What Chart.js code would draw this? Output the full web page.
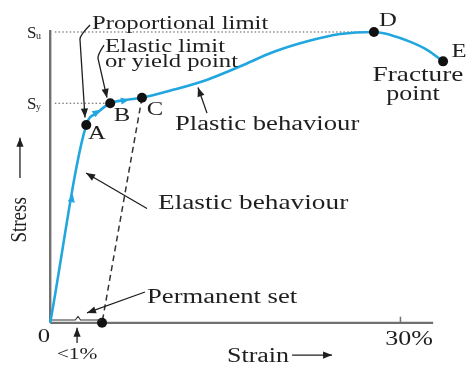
<!DOCTYPE html>
<html>
<head>
<meta charset="utf-8">
<script src="https://cdn.jsdelivr.net/npm/chart.js@4/dist/chart.umd.min.js"></script>
<style>
  html, body { margin: 0; padding: 0; background: #ffffff; }
  #wrap { width: 467px; height: 365px; position: relative; }
</style>
</head>
<body>
<div id="wrap"><canvas id="c" width="467" height="365"></canvas></div>
<script>
// ---- Data (strain in %, stress normalised so that S_u = 100) ----
const curveStrain = [0, 3.09, 4.03, 5.14, 6.43, 7.86, 10.54, 13.46, 16.29, 19.11, 22.03, 24.86, 27.73, 29.14, 30.86, 32.31, 33.65];
const curveStress = [0, 68.0, 72.2, 75.5, 76.6, 77.4, 80.1, 83.6, 88.2, 93.1, 96.8, 99.3, 100, 99.0, 96.6, 93.8, 89.9];

const pointLabels = ['A', 'B', 'C', 'D', 'E'];
const pointStrain = [3.09, 5.14, 7.86, 27.73, 33.65];
const pointStress = [68.0, 75.5, 77.4, 100, 89.9];

const permanentSetStrain = 4.44;   // unloading line ends here (stress 0)
const ultimateStress = 100;        // S_u
const yieldStress = 75.5;          // S_y
const xTickValues = [0, 30];
const xTickLabels = ['0', '30%'];
const yTickLabels = ['S', 'S'];
const yTickSubs = ['u', 'y'];
const axisMaxStrain = 32.8;
const axisMaxStress = 100.7;

const BLUE = '#21a6df';
const INK = '#1f1f1f';
const AXIS = '#707070';

const xy = (xs, ys) => xs.map((x, i) => ({ x: x, y: ys[i] }));

const datasets = [
  { // key points (drawn on top)
    data: xy(pointStrain.concat([permanentSetStrain]), pointStress.concat([0])),
    showLine: false, pointRadius: 5, pointBackgroundColor: '#111', pointBorderColor: '#111', pointBorderWidth: 0
  },
  { // stress-strain curve
    data: xy(curveStrain, curveStress),
    showLine: true, borderColor: BLUE, borderWidth: 2.6, pointRadius: 0,
    cubicInterpolationMode: 'monotone', fill: false
  },
  { // unloading (dashed)
    data: [{ x: pointStrain[2], y: pointStress[2] }, { x: permanentSetStrain, y: 0 }],
    showLine: true, borderColor: '#333', borderWidth: 1.5, borderDash: [6, 4], pointRadius: 0
  },
  { // S_u dotted reference
    data: [{ x: 0.4, y: ultimateStress }, { x: pointStrain[3], y: ultimateStress }],
    showLine: true, borderColor: '#555', borderWidth: 1, borderDash: [1.5, 2.2], pointRadius: 0
  },
  { // S_y dotted reference
    data: [{ x: 0.4, y: yieldStress }, { x: pointStrain[1], y: yieldStress }],
    showLine: true, borderColor: '#555', borderWidth: 1, borderDash: [1.5, 2.2], pointRadius: 0
  },
  { // y axis
    data: [{ x: 0, y: 0 }, { x: 0, y: axisMaxStress }],
    showLine: true, borderColor: AXIS, borderWidth: 2.4, pointRadius: 0
  },
  { // x axis
    data: [{ x: 0, y: 0 }, { x: axisMaxStrain, y: 0 }],
    showLine: true, borderColor: AXIS, borderWidth: 2.4, pointRadius: 0
  },
  { // 30% tick
    data: [{ x: xTickValues[1], y: 0 }, { x: xTickValues[1], y: 2.1 }],
    showLine: true, borderColor: AXIS, borderWidth: 1.5, pointRadius: 0
  }
];

// ---- Annotation layout (data units) ----
const texts = [
  { t: 'Proportional limit', x: 3.58, y: 101.0, size: 19, align: 'left', base: 'alphabetic' },
  { t: 'Elastic limit', x: 4.69, y: 93.1, size: 19, align: 'left', base: 'alphabetic' },
  { t: 'or yield point', x: 4.69, y: 87.9, size: 19, align: 'left', base: 'alphabetic' },
  { t: 'Plastic behaviour', x: 10.69, y: 66.3, size: 20.5, align: 'left', base: 'alphabetic' },
  { t: 'Elastic behaviour', x: 9.23, y: 39.1, size: 21, align: 'left', base: 'alphabetic' },
  { t: 'Permanent set', x: 8.29, y: 6.8, size: 20.5, align: 'left', base: 'alphabetic' },
  { t: 'Fracture', x: 31.50, y: 85.2, size: 21, align: 'center', base: 'middle' },
  { t: 'point', x: 31.07, y: 78.3, size: 20, align: 'center', base: 'middle' },
  { t: 'Strain', x: 15.14, y: -13.5, size: 20, align: 'left', base: 'alphabetic' },
  { t: xTickLabels[0], x: -0.53, y: -4.9, size: 19, align: 'center', base: 'middle' },
  { t: xTickLabels[1], x: 30.73, y: -5.9, size: 20, align: 'center', base: 'middle' },
  { t: '<1%', x: 2.30, y: -11.0, size: 16.5, align: 'center', base: 'middle' }
];
const letterOffsets = [[0.92, -3.1], [1.01, -4.4], [1.12, -4.2], [1.2, 3.8], [1.36, 3.2]];

const arrows = [
  { pts: [[3.41, 102.4], [2.55, 98.9], [2.98, 70.6]] },
  { pts: [[4.61, 95.5], [4.09, 92.4], [4.86, 77.4]] },
  { pts: [[13.43, 72.1], [12.66, 80.9]] },
  { pts: [[8.29, 39.3], [3.07, 51.5]] },
  { pts: [[8.12, 10.6], [3.15, 3.4]] },
  { pts: [[2.30, -6.9], [2.30, -1.7]] },
  { pts: [[20.72, -11.1], [24.14, -11.1]] },
  { pts: [[-2.59, 49.8], [-2.59, 63.6]] }
];
const curveArrows = [
  { at: [1.87, 42.9], toward: [3.09, 68.0] },
  { at: [4.01, 72.5], toward: [5.14, 75.5] },
  { at: [6.41, 76.5], toward: [7.86, 77.4] }
];
const brace = [[0.15, 0.96], [2.15, 0.96], [2.38, 2.2], [2.6, 0.96], [4.35, 0.96]];

const STRETCH = 1.3;
const FONT = '"Liberation Serif", "Times New Roman", serif';

const annot = {
  id: 'annot',
  afterDatasetsDraw(chart) {
    const ctx = chart.ctx;
    const xs = chart.scales.x, ys = chart.scales.y;
    const P = (x, y) => [xs.getPixelForValue(x), ys.getPixelForValue(y)];

    function text(t, x, y, size, align, base, stretch) {
      const p = P(x, y);
      ctx.save();
      ctx.translate(p[0], p[1]);
      ctx.scale(stretch, 1);
      ctx.font = size + 'px ' + FONT;
      ctx.fillStyle = INK;
      ctx.textAlign = align;
      ctx.textBaseline = base;
      ctx.fillText(t, 0, 0);
      ctx.restore();
    }
    function head(from, to, len, half, color) {
      const dx = to[0] - from[0], dy = to[1] - from[1];
      const L = Math.hypot(dx, dy) || 1;
      const ux = dx / L, uy = dy / L;
      ctx.beginPath();
      ctx.moveTo(to[0], to[1]);
      ctx.lineTo(to[0] - ux * len - uy * half, to[1] - uy * len + ux * half);
      ctx.lineTo(to[0] - ux * len + uy * half, to[1] - uy * len - ux * half);
      ctx.closePath();
      ctx.fillStyle = color;
      ctx.fill();
    }

    ctx.save();
    texts.forEach(o => text(o.t, o.x, o.y, o.size, o.align, o.base, STRETCH));
    pointLabels.forEach((l, i) => text(l, pointStrain[i] + letterOffsets[i][0], pointStress[i] + letterOffsets[i][1], 19, 'center', 'middle', STRETCH));
    [ultimateStress, yieldStress].forEach((v, i) => {
      text(yTickLabels[i], -1.99, v - 2.1, 17, 'left', 'alphabetic', 1);
      text(yTickSubs[i], -1.22, v - 2.3, 10, 'left', 'alphabetic', 1);
    });
    const sp = P(-2.59, 35.4);
    ctx.save();
    ctx.translate(sp[0], sp[1]);
    ctx.rotate(-Math.PI / 2);
    ctx.scale(1, 1.25);
    ctx.font = '19px ' + FONT;
    ctx.fillStyle = INK;
    ctx.textAlign = 'center';
    ctx.textBaseline = 'middle';
    ctx.fillText('Stress', 0, 0);
    ctx.restore();

    ctx.strokeStyle = INK;
    ctx.lineWidth = 1.3;
    arrows.forEach(a => {
      const pts = a.pts.map(p => P(p[0], p[1]));
      ctx.beginPath();
      ctx.moveTo(pts[0][0], pts[0][1]);
      if (pts.length === 3) {
        ctx.quadraticCurveTo(pts[1][0], pts[1][1], pts[1][0], pts[1][1] + 4);
        ctx.lineTo(pts[2][0], pts[2][1]);
      } else {
        ctx.lineTo(pts[1][0], pts[1][1]);
      }
      ctx.stroke();
      const n = pts.length;
      head(pts[n - 2], pts[n - 1], 9, 3.6, INK);
    });
    curveArrows.forEach(c => {
      const a = P(c.at[0], c.at[1]), b = P(c.toward[0], c.toward[1]);
      const dx = b[0] - a[0], dy = b[1] - a[1], L = Math.hypot(dx, dy);
      const tip = [a[0] + dx / L * 4, a[1] + dy / L * 4];
      head(a, tip, 8, 3.6, BLUE);
    });
    const bp = brace.map(p => P(p[0], p[1]));
    ctx.beginPath();
    ctx.moveTo(bp[0][0], bp[0][1]);
    for (let i = 1; i < bp.length; i++) ctx.lineTo(bp[i][0], bp[i][1]);
    ctx.lineWidth = 1.1;
    ctx.strokeStyle = '#333';
    ctx.stroke();
    ctx.restore();
  }
};

new Chart(document.getElementById('c'), {
  type: 'scatter',
  data: { datasets: datasets },
  options: {
    responsive: false,
    animation: false,
    layout: { padding: 0, autoPadding: false },
    plugins: { legend: { display: false }, tooltip: { enabled: false }, title: { display: false } },
    elements: { line: { tension: 0 } },
    scales: {
      x: { type: 'linear', min: -4.3, max: 35.7, display: false },
      y: { type: 'linear', min: -14.5, max: 111, display: false }
    }
  },
  plugins: [annot]
});
</script>
</body>
</html>
